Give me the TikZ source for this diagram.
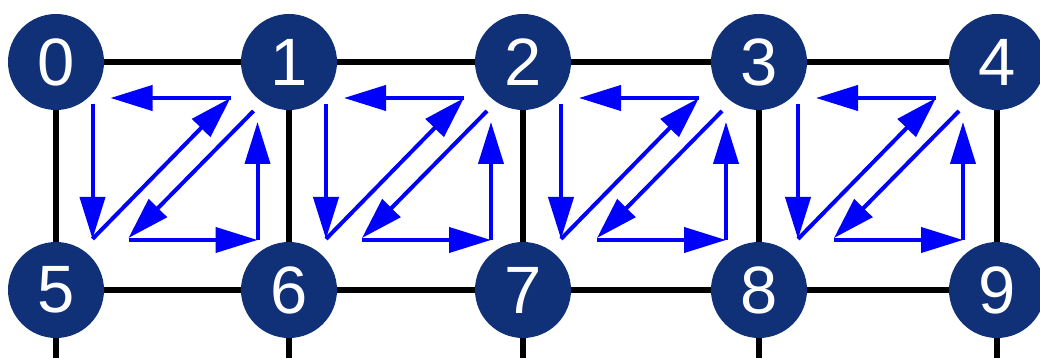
\documentclass[tikz,border=0pt]{standalone}
\usepackage{fontspec}
\setmainfont{Liberation Sans}
\usetikzlibrary{arrows.meta, calc}
\definecolor{cNavy}{RGB}{16,48,120}
\definecolor{cFlow}{RGB}{0,0,255}
\tikzset{
	vertex/.style   ={circle, fill=cNavy, text=white, minimum size=48pt, inner sep=0pt},
	edgeline/.style ={line width=2.6pt, black},
	flowarrow/.style={-{Triangle[length=21pt, width=12.5pt]}, line width=2pt, cFlow},
	% two triangles of arrows inside one cell, drawn about the cell centre
	cellflow/.pic={
		\draw[flowarrow] (58,78) -- (-62,78);
		\draw[flowarrow] (-80,72) -- (-80,-63);
		\draw[flowarrow] (-80,-63) -- (58,78);
		\draw[flowarrow] (81,65) -- (-44,-62);
		\draw[flowarrow] (-44,-64) -- (85,-64);
		\draw[flowarrow] (85,-64) -- (85,54);
	},
}

\begin{document}
\begin{tikzpicture}[x=0.5pt, y=0.5pt, font=\fontsize{33.5}{36}\selectfont]
	\useasboundingbox (0,0) rectangle (1040,358);
	% upper row
	\node[vertex] (n0) at (56,296)  {0};
	\node[vertex] (n1) at (289,296) {1};
	\node[vertex] (n2) at (523,296) {2};
	\node[vertex] (n3) at (759,296) {3};
	\node[vertex] (n4) at (997,296) {4};
	% lower row
	\node[vertex] (n5) at (56,68)  {5};
	\node[vertex] (n6) at (289,68) {6};
	\node[vertex] (n7) at (523,68) {7};
	\node[vertex] (n8) at (759,68) {8};
	\node[vertex] (n9) at (997,68) {9};
	% the grid goes on below the lower row
	\coordinate (e5) at (56,0);
	\coordinate (e6) at (289,0);
	\coordinate (e7) at (523,0);
	\coordinate (e8) at (759,0);
	\coordinate (e9) at (997,0);
	\draw[edgeline] (n0) -- (n1) (n1) -- (n2) (n2) -- (n3) (n3) -- (n4);
	\draw[edgeline] (n5) -- (n6) (n6) -- (n7) (n7) -- (n8) (n8) -- (n9);
	\draw[edgeline] (n0) -- (n5) (n1) -- (n6) (n2) -- (n7) (n3) -- (n8) (n4) -- (n9);
	\draw[edgeline] (n5) -- (e5) (n6) -- (e6) (n7) -- (e7) (n8) -- (e8) (n9) -- (e9);
	% arrows in each cell
	\pic at ($(n0)!0.5!(n6)$) {cellflow};
	\pic at ($(n1)!0.5!(n7)$) {cellflow};
	\pic at ($(n2)!0.5!(n8)$) {cellflow};
	\pic at ($(n3)!0.5!(n9)$) {cellflow};
\end{tikzpicture}
\end{document}
